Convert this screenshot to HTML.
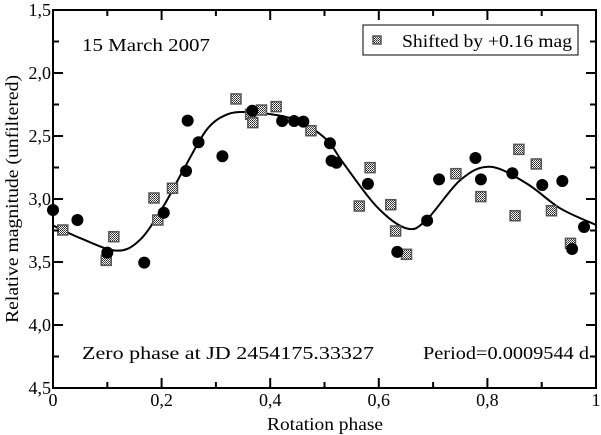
<!DOCTYPE html>
<html><head><meta charset="utf-8"><style>
html,body{margin:0;padding:0;background:#fff;}
svg{display:block;font-family:"Liberation Serif",serif;}
</style></head><body>
<svg id="chart" width="601" height="435" viewBox="0 0 601 435" xmlns="http://www.w3.org/2000/svg">
<defs>
<pattern id="dots" width="2" height="2" patternUnits="userSpaceOnUse">
<rect width="2" height="2" fill="#fff"/><rect width="1" height="1" fill="#222"/><rect x="1" y="1" width="1" height="1" fill="#444"/>
</pattern>
</defs>
<g id="marks"></g>
<rect x="53" y="10" width="543" height="378" fill="none" stroke="#000" stroke-width="2"/>
<g id="axes"></g>
<text x="82" y="51" font-size="18" textLength="128" lengthAdjust="spacingAndGlyphs">15 March 2007</text>
<text x="82" y="359" font-size="18" textLength="292" lengthAdjust="spacingAndGlyphs">Zero phase at JD 2454175.33327</text>
<text x="423" y="359" font-size="18" textLength="166" lengthAdjust="spacingAndGlyphs">Period=0.0009544 d</text>
<g>
<rect x="363" y="25" width="215" height="30" fill="#fff" stroke="#000" stroke-width="1"/>
<rect x="373" y="36" width="8" height="8" fill="url(#dots)" stroke="#555" stroke-width="1.5"/>
<text x="402" y="47" font-size="18" textLength="170" lengthAdjust="spacingAndGlyphs">Shifted by +0.16 mag</text>
</g>
<text x="325" y="430" font-size="18" text-anchor="middle" textLength="116" lengthAdjust="spacingAndGlyphs">Rotation phase</text>
<text transform="translate(18,199) rotate(-90)" font-size="18" text-anchor="middle" textLength="248" lengthAdjust="spacingAndGlyphs">Relative magnitude (unfiltered)</text>
</svg>
<script>
const circlePhase=[0.0,0.045,0.10,0.168,0.204,0.245,0.268,0.248,0.312,0.367,0.422,0.444,0.461,0.51,0.513,0.522,0.58,0.634,0.689,0.711,0.778,0.788,0.846,0.901,0.938,0.956,0.978];
const circleMag=[3.087,3.167,3.426,3.505,3.109,2.778,2.55,2.378,2.661,2.30,2.381,2.381,2.386,2.558,2.696,2.712,2.88,3.42,3.172,2.844,2.675,2.844,2.796,2.889,2.857,3.397,3.222];
const squarePhase=[0.018,0.112,0.098,0.186,0.193,0.22,0.337,0.364,0.368,0.384,0.411,0.475,0.584,0.564,0.622,0.631,0.651,0.742,0.788,0.858,0.89,0.851,0.918,0.953];
const squareMag=[3.246,3.299,3.487,2.992,3.167,2.915,2.206,2.328,2.394,2.294,2.267,2.458,2.751,3.056,3.045,3.254,3.439,2.799,2.981,2.606,2.722,3.133,3.093,3.352];
const fitPhase=[0.0,0.05,0.117,0.16,0.203,0.24,0.283,0.32,0.356,0.406,0.455,0.504,0.535,0.596,0.651,0.687,0.75,0.805,0.872,0.934,1.0];
const fitMag=[3.21,3.31,3.41,3.325,3.06,2.77,2.45,2.33,2.31,2.33,2.386,2.53,2.717,3.06,3.233,3.17,2.85,2.744,2.876,3.074,3.206];
const xTicks=[0,0.2,0.4,0.6,0.8,1];
const xTickLabels=["0","0,2","0,4","0,6","0,8","1"];
const yTicks=[1.5,2.0,2.5,3.0,3.5,4.0,4.5];
const yTickLabels=["1,5","2,0","2,5","3,0","3,5","4,0","4,5"];

const X0=53,X1=596,Y0=10,Y1=388;
function xs(p){return X0+(p-0)*(X1-X0)/1;}
function ys(m){return Y0+(m-1.5)*(Y1-Y0)/3;}
const NS="http://www.w3.org/2000/svg";
const marks=document.getElementById('marks');
const axes=document.getElementById('axes');
function mk(tag,attrs,parent){const e=document.createElementNS(NS,tag);for(const k in attrs)e.setAttribute(k,attrs[k]);parent.appendChild(e);return e;}

let pts=fitPhase.map((p,i)=>[xs(p),ys(fitMag[i])]);
let d="M"+pts[0][0]+","+pts[0][1];
for(let i=0;i<pts.length-1;i++){
 const p0=pts[Math.max(0,i-1)],p1=pts[i],p2=pts[i+1],p3=pts[Math.min(pts.length-1,i+2)];
 d+=" C"+(p1[0]+(p2[0]-p0[0])/6)+","+(p1[1]+(p2[1]-p0[1])/6)+" "+(p2[0]-(p3[0]-p1[0])/6)+","+(p2[1]-(p3[1]-p1[1])/6)+" "+p2[0]+","+p2[1];
}
const curve=mk('path',{d:d,fill:'none',stroke:'#000','stroke-width':2},marks);



squarePhase.forEach((p,i)=>{
 const r=mk('rect',{x:xs(p)-5,y:ys(squareMag[i])-5,width:10,height:10,fill:'url(#dots)',stroke:'#555','stroke-width':1.5},marks);
 
 
});
circlePhase.forEach((p,i)=>{
 const c=mk('circle',{cx:xs(p),cy:ys(circleMag[i]),r:6,fill:'#000'},marks);
 
 
});

for(let i=0;i<=10;i++){
 const v=i/10,x=xs(v),len=(i%2==0)?10:6;
 mk('line',{x1:x,y1:Y1,x2:x,y2:Y1-len,stroke:'#000','stroke-width':2},axes);
 mk('line',{x1:x,y1:Y0,x2:x,y2:Y0+len,stroke:'#000','stroke-width':2},axes);
}
for(let i=0;i<=12;i++){
 const v=1.5+i*0.25,y=ys(v),len=(i%2==0)?10:6;
 mk('line',{x1:X0,y1:y,x2:X0+len,y2:y,stroke:'#000','stroke-width':2},axes);
 mk('line',{x1:X1,y1:y,x2:X1-len,y2:y,stroke:'#000','stroke-width':2},axes);
}
xTicks.forEach((v,i)=>{
 const t=mk('text',{x:xs(v),y:406,'font-size':18,'text-anchor':'middle'},axes);
 t.textContent=xTickLabels[i];
 
 
});
yTicks.forEach((v,i)=>{
 const t=mk('text',{x:51,y:ys(v)+6,'font-size':18,'text-anchor':'end'},axes);
 t.textContent=yTickLabels[i];
 
 
});
</script>
</body></html>
